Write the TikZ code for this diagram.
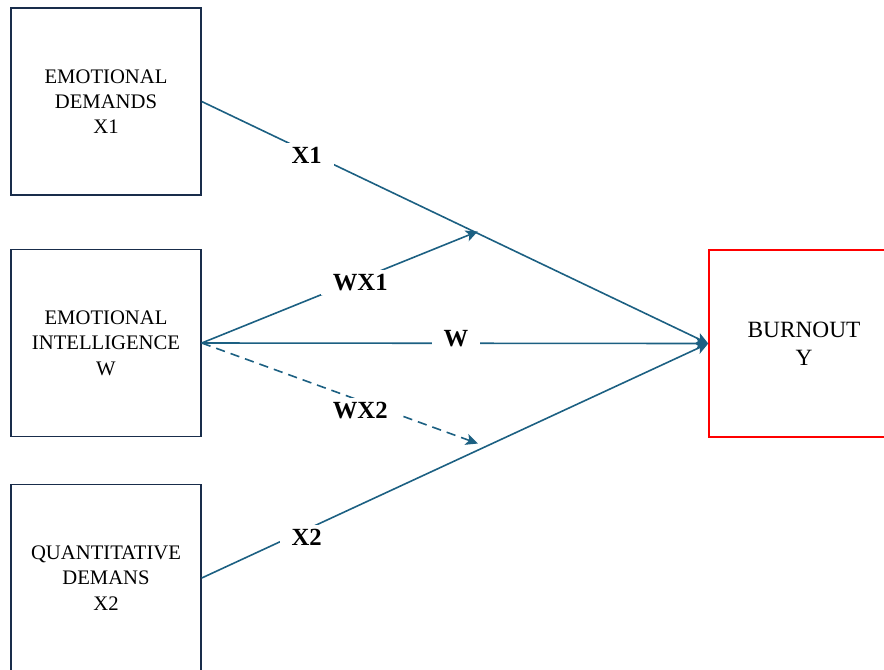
\documentclass[tikz,border=0pt]{standalone}
\usepackage{fontspec}
\setmainfont{Liberation Serif}
\usetikzlibrary{
  arrows.meta,
  positioning
}
\definecolor{linkblue}{RGB}{28,96,130}
\definecolor{boxnavy}{RGB}{25,45,75}
\tikzset{
  var/.style={
    draw=boxnavy, line width=1.1pt, minimum width=142.5pt, minimum height=140pt,
    inner sep=0pt, align=center, font=\fontsize{15.5}{19}\selectfont
  },
  outcome/.style={
    draw=red, line width=1.1pt, minimum width=142.5pt, minimum height=140pt,
    inner sep=0pt, align=center, font=\fontsize{17.5}{21}\selectfont
  },
  link/.style={-{Stealth[length=9pt, width=8.5pt, inset=2.2pt]}, draw=linkblue, line width=1.2pt},
  dashlink/.style={link, dash pattern=on 7pt off 4.5pt},
  lbl/.style={fill=white, inner xsep=9pt, inner ysep=3pt, font=\fontsize{18.5}{22}\selectfont\bfseries},
}
\begin{document}
\begin{tikzpicture}[x=0.75pt, y=-0.75pt]
\useasboundingbox (0,0) rectangle (884,669);
\clip (0,0) rectangle (884,669);

% --- boxes ---
\node[var] (ed) at (106,101.5) {EMOTIONAL\\DEMANDS\\X1};
\node[var] (ei) at (106,343) {EMOTIONAL\\INTELLIGENCE\\W};
\node[var] (qd) at (106,578) {QUANTITATIVE\\DEMANS\\X2};
\node[outcome] (bo) at (804,343.5) {BURNOUT\\Y};

% --- points near the X1 and X2 paths where the moderation arrows end ---
\path (ed.east) -- coordinate[pos=0.545, yshift=1.5pt] (m1) (bo.west);
\path (qd.east) -- coordinate[pos=0.545, yshift=5pt] (m2) (bo.west);

% --- main effects ---
\draw[link] (ed.east) -- node[lbl, pos=0.207, yshift=-3pt] {X1} (bo.west);
\draw[link] (qd.east) -- node[lbl, pos=0.207, yshift=-6pt] {X2} (bo.west);
\draw[link] (ei.east) -- node[lbl, pos=0.502, yshift=3.5pt] {W} (bo.west);

% --- moderation ---
\draw[link] (ei.east) -- node[lbl, pos=0.574, yshift=-2.5pt] {WX1} (m1);
\draw[dashlink] (ei.east) -- node[lbl, pos=0.574, yshift=-7pt] {WX2} (m2);
\end{tikzpicture}
\end{document}
